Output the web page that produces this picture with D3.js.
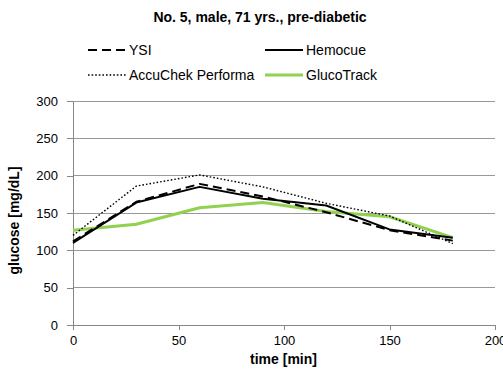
<!DOCTYPE html>
<html><head><meta charset="utf-8">
<script src="https://cdn.jsdelivr.net/npm/d3@7"></script>
<style>body{margin:0;background:#fff;} svg{display:block;font-family:"Liberation Sans",Arial,sans-serif;}</style>
</head><body>
<svg id="c" width="503" height="376"></svg>
<script>
const times = [0, 30, 60, 90, 120, 150, 180];
const ysi = [112, 165, 189, 172, 151, 127, 113];
const hemocue = [110, 164, 185, 169, 160, 128, 117];
const accuchek = [120, 186, 201, 185, 163, 146, 109];
const glucotrack = [127, 135, 157, 164, 152, 145, 117];
const xTicks = [0, 50, 100, 150, 200];
const yTicks = [0, 50, 100, 150, 200, 250, 300];

const svg = d3.select("#c");
const x = d3.scaleLinear().domain([0, 200]).range([73, 495]);
const y = d3.scaleLinear().domain([0, 300]).range([325, 101]);
const axisColor = "#868686";
const FONT = '"Liberation Sans",Arial,sans-serif';

// gridlines
svg.append("g").selectAll("line").data(yTicks.filter(d => d > 0)).join("line")
  .attr("x1", x(0)).attr("x2", x(200)).attr("y1", d => y(d)).attr("y2", d => y(d))
  .attr("stroke", "#999999").attr("stroke-width", 1).attr("shape-rendering", "crispEdges");

const gx = svg.append("g").attr("transform", `translate(0,${y(0)})`)
  .call(d3.axisBottom(x).tickValues(xTicks).tickSize(5).tickPadding(3).tickSizeOuter(0));
const gy = svg.append("g").attr("transform", `translate(${x(0)},0)`)
  .call(d3.axisLeft(y).tickValues(yTicks).tickSize(6).tickPadding(9).tickSizeOuter(0));
[gx, gy].forEach(g => {
  g.select(".domain").attr("stroke", axisColor).attr("shape-rendering", "crispEdges");
  g.selectAll(".tick line").attr("stroke", axisColor).attr("shape-rendering", "crispEdges");
  g.selectAll("text").attr("fill", "#000").style("font-size", "13px").style("font-family", FONT);
});
gx.selectAll("text").attr("dy", "0.95em");

const series = [
  {name: "YSI", vals: ysi, color: "#000", w: 2, dash: "9,5"},
  {name: "Hemocue", vals: hemocue, color: "#000", w: 2, dash: null},
  {name: "AccuChek Performa", vals: accuchek, color: "#000", w: 1.4, dash: "1.6,2"},
  {name: "GlucoTrack", vals: glucotrack, color: "#92d050", w: 3, dash: null}
];
const line = d3.line().x((d, i) => x(times[i])).y(d => y(d));
const drawOrder = [3, 2, 0, 1];
drawOrder.forEach(k => {
  const s = series[k];
  svg.append("path").attr("d", line(s.vals)).attr("fill", "none")
    .attr("stroke", s.color).attr("stroke-width", s.w)
    .attr("stroke-dasharray", s.dash).attr("stroke-linejoin", "round");
});

// title
svg.append("text").attr("x", 260).attr("y", 22).attr("text-anchor", "middle")
  .style("font-size", "14px").style("font-weight", "bold").text("No. 5, male, 71 yrs., pre-diabetic");

// legend
const legPos = [[88, 50], [265, 50], [88, 75], [265, 75]];
series.forEach((s, i) => {
  const [lx, ly] = legPos[i];
  svg.append("line").attr("x1", lx).attr("x2", lx + 38).attr("y1", ly).attr("y2", ly)
    .attr("stroke", s.color).attr("stroke-width", s.w).attr("stroke-dasharray", s.dash);
  svg.append("text").attr("x", lx + 41).attr("y", ly + 5).style("font-size", "14px").text(s.name);
});

// axis titles
svg.append("text").attr("x", 283.5).attr("y", 364).attr("text-anchor", "middle")
  .style("font-size", "14px").style("font-weight", "bold").text("time [min]");
svg.append("text").attr("transform", `translate(19,${y(140)}) rotate(-90)`).attr("text-anchor", "middle")
  .style("font-size", "14px").style("font-weight", "bold").text("glucose [mg/dL]");
</script>
</body></html>
